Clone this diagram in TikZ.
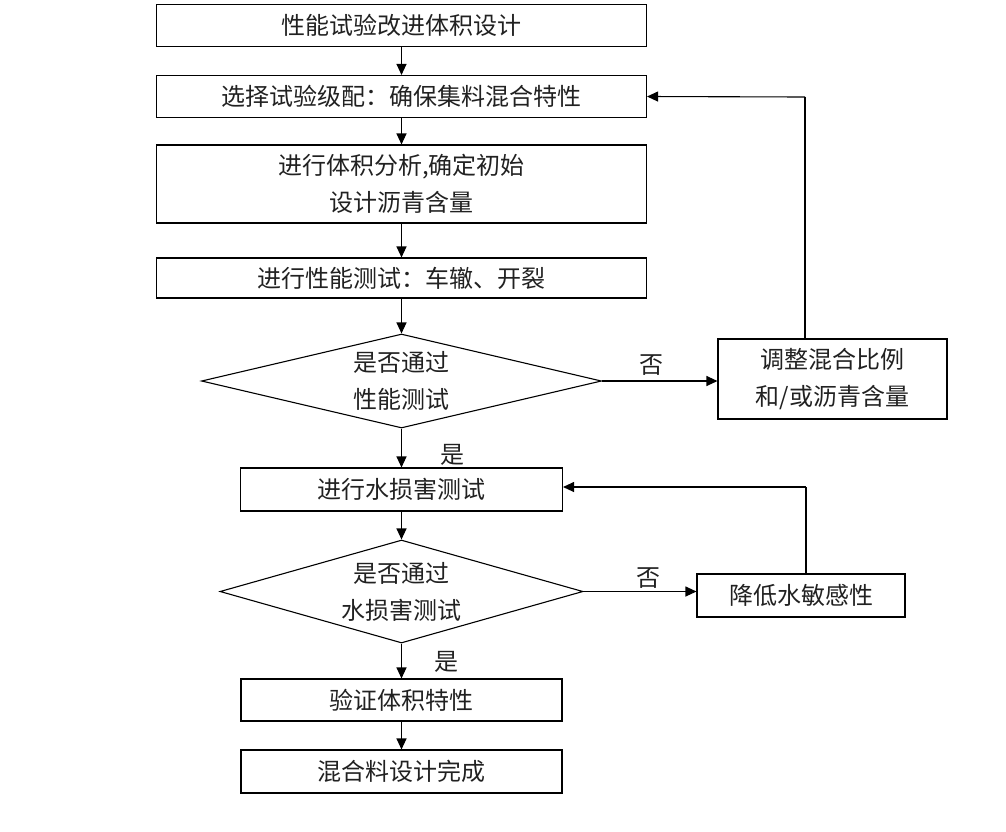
\documentclass[tikz,border=0pt]{standalone}
\usepackage{fontspec}
\setmainfont{Noto Sans CJK SC}
\usetikzlibrary{arrows.meta,shapes.geometric}
\definecolor{TextClr}{rgb}{0.13,0.13,0.13}

\begin{document}
\begin{tikzpicture}[x=1pt,y=-1pt,
  every node/.style={text=TextClr,font=\fontsize{24}{37}\selectfont},
  box/.style={draw=black,line width=1.1pt,inner sep=0pt,align=center},
  decision/.style={draw=black,line width=1.1pt,diamond,inner sep=0pt,align=center},
  flow/.style={line width=1.1pt,-{Triangle[length=11pt,width=10pt]}},
  link/.style={line width=1.1pt}]
\useasboundingbox (0,0) rectangle (1006,831);

% main column
\node[box,minimum width=490,minimum height=42] (design) at (401.5,25.5) {性能试验改进体积设计};
\node[box,minimum width=490,minimum height=42] (grading) at (401.5,96.5) {选择试验级配：确保集料混合特性};
\node[box,minimum width=490,minimum height=78] (volume) at (401.5,184) {进行体积分析,确定初始\\设计沥青含量};
\node[box,minimum width=490,minimum height=40] (perftest) at (401.5,278) {进行性能测试：车辙、开裂};
\node[decision,minimum width=400,minimum height=94,aspect=4.25] (perfok) at (401.5,381) {是否通过\\性能测试};
\node[box,minimum width=322,minimum height=43] (watertest) at (401.5,489.5) {进行水损害测试};
\node[decision,minimum width=363,minimum height=103,aspect=3.5] (waterok) at (401.5,591.5) {是否通过\\水损害测试};
\node[box,minimum width=321,minimum height=42] (verify) at (401.5,700) {验证体积特性};
\node[box,minimum width=321,minimum height=43] (done) at (401.5,771.5) {混合料设计完成};

% side boxes
\node[box,minimum width=229,minimum height=80] (adjust) at (832.5,379) {调整混合比例\\和/或沥青含量};
\node[box,minimum width=208,minimum height=43] (reduce) at (801,595.5) {降低水敏感性};

\coordinate (adjtop) at (805,97);
\coordinate (redtop) at (806,487);

\draw[flow] (design) -- (grading);
\draw[flow] (grading) -- (volume);
\draw[flow] (volume) -- (perftest);
\draw[flow] (perftest) -- (perfok);
\draw[flow] (perfok) -- (watertest);
\draw[flow] (watertest) -- (waterok);
\draw[flow] (waterok) -- (verify);
\draw[flow] (verify) -- (done);

\draw[flow] (perfok.east) -- (perfok.east -| adjust.west);
\draw[flow] (waterok.east) -- (waterok.east -| reduce.west);
\draw[link] (adjust.north -| adjtop) -- (adjtop);
\draw[flow] (adjtop) -- (grading.east);
\draw[link] (reduce.north -| redtop) -- (redtop);
\draw[flow] (redtop) -- (watertest.east |- redtop);

\node (no1) at (651,365) {否};
\node (yes1) at (452,455) {是};
\node (no2) at (648,578) {否};
\node (yes2) at (446,662) {是};

\end{tikzpicture}
\end{document}
